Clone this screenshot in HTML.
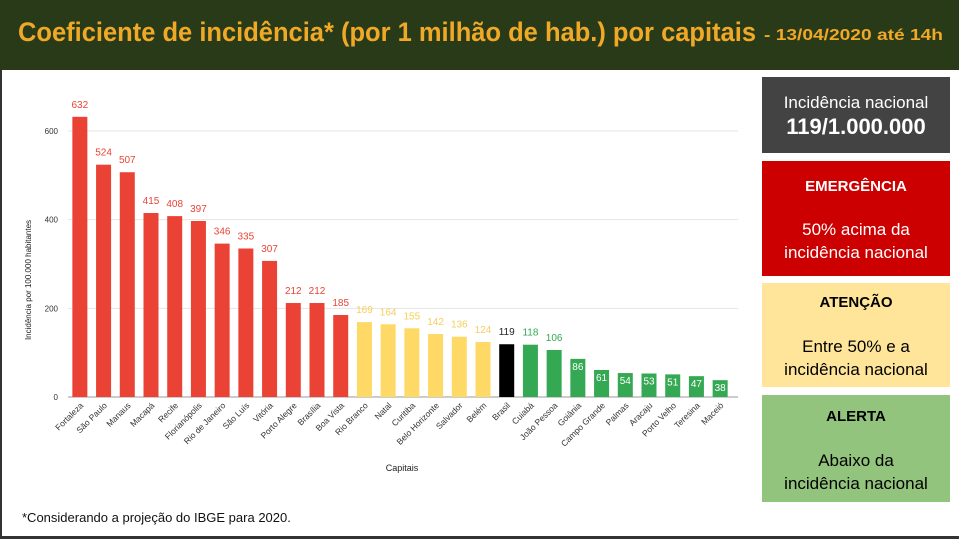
<!DOCTYPE html>
<html><head><meta charset="utf-8"><style>
html,body{margin:0;padding:0;background:#fff}
svg{display:block;font-family:"Liberation Sans",sans-serif}
</style></head><body>
<svg id="chart" width="959" height="539" viewBox="0 0 959 539" xmlns="http://www.w3.org/2000/svg">
<rect x="0" y="0" width="959" height="539" fill="#fff"/>
<rect x="0" y="0" width="959" height="70" fill="#283a18"/>
<text x="18" y="41" fill="#f0a827" font-weight="bold" font-size="27" textLength="738" lengthAdjust="spacingAndGlyphs">Coeficiente de incidência* (por 1 milhão de hab.) por capitais</text>
<text x="764" y="40" fill="#f0a827" font-weight="bold" font-size="16" textLength="179" lengthAdjust="spacingAndGlyphs">- 13/04/2020 até 14h</text>
<rect x="0" y="70" width="2" height="469" fill="#333"/>
<rect x="0" y="536" width="959" height="3" fill="#333"/>
<g id="grid"></g>
<g id="bars"></g>
<text transform="translate(31,280) rotate(-90)" text-anchor="middle" font-size="8" fill="#222">Incidência por 100.000 habitantes</text>
<text x="402" y="471" text-anchor="middle" font-size="9" fill="#222">Capitais</text>
<text x="22" y="522" font-size="13" fill="#111">*Considerando a projeção do IBGE para 2020.</text>
<g>
<rect x="762" y="77" width="188" height="76" fill="#434343"/>
<text x="856" y="108" text-anchor="middle" font-size="17" fill="#fff">Incidência nacional</text>
<text x="856" y="134" text-anchor="middle" font-size="22" font-weight="bold" fill="#fff">119/1.000.000</text>
</g>
<g>
<rect x="762" y="161" width="188" height="115" fill="#cc0000"/>
<text x="856" y="191" text-anchor="middle" font-size="15" font-weight="bold" fill="#fff">EMERGÊNCIA</text>
<text x="856" y="235" text-anchor="middle" font-size="17" fill="#fff">50% acima da</text>
<text x="856" y="258" text-anchor="middle" font-size="17" fill="#fff">incidência nacional</text>
</g>
<g>
<rect x="762" y="283" width="188" height="104" fill="#ffe599"/>
<text x="856" y="307" text-anchor="middle" font-size="15" font-weight="bold" fill="#000">ATENÇÃO</text>
<text x="856" y="352" text-anchor="middle" font-size="17" fill="#000">Entre 50% e a</text>
<text x="856" y="375" text-anchor="middle" font-size="17" fill="#000">incidência nacional</text>
</g>
<g>
<rect x="762" y="395" width="188" height="107" fill="#93c47d"/>
<text x="856" y="421" text-anchor="middle" font-size="15" font-weight="bold" fill="#000">ALERTA</text>
<text x="856" y="466" text-anchor="middle" font-size="17" fill="#000">Abaixo da</text>
<text x="856" y="489" text-anchor="middle" font-size="17" fill="#000">incidência nacional</text>
</g>
</svg>
<script>
const categories=["Fortaleza","São Paulo","Manaus","Macapá","Recife","Florianópolis","Rio de Janeiro","São Luís","Vitória","Porto Alegre","Brasília","Boa Vista","Rio Branco","Natal","Curitiba","Belo Horizonte","Salvador","Belém","Brasil","Cuiabá","João Pessoa","Goiânia","Campo Grande","Palmas","Aracaju","Porto Velho","Teresina","Maceió"];
const values=[632,524,507,415,408,397,346,335,307,212,212,185,169,164,155,142,136,124,119,118,106,86,61,54,53,51,47,38];
const yTicks=[0,200,400,600];
const NS="http://www.w3.org/2000/svg";
const x0=68,x1=732,y0=397,yTop=131;
const step=(x1-x0)/categories.length;
function xPos(i){return x0+step*(i+0.5);}
function yPos(v){return y0-(v/600)*(y0-yTop);}
function mk(tag,attrs,parent){const e=document.createElementNS(NS,tag);for(const k in attrs)e.setAttribute(k,attrs[k]);parent.appendChild(e);return e;}
const grid=document.getElementById('grid'),bars=document.getElementById('bars');
yTicks.forEach(t=>{
  const l=mk('line',{x1:x0,x2:738,y1:yPos(t),y2:yPos(t),stroke:t===0?'#999':'#e4e4e4','stroke-width':1},grid);
  
  
  const tx=mk('text',{x:x0-10,y:yPos(t)+3,'text-anchor':'end','font-size':8,fill:'#333'},grid);
  tx.textContent=t;
  
  
});
const nat=values[categories.indexOf("Brasil")];
function color(i,v){if(categories[i]==="Brasil")return'#000';if(v>=nat*1.5)return'#ea4335';if(v>nat)return'#ffd966';return'#34a853';}
categories.forEach((c,i)=>{
  const v=values[i],cx=xPos(i),w=15,col=color(i,v);
  const r=mk('rect',{x:cx-w/2,y:yPos(v),width:w,height:y0-yPos(v),fill:col},bars);
  
  
  const inside=v<100;
  const lbl=mk('text',{x:cx,y:inside?yPos(v)+11:yPos(v)-9,'text-anchor':'middle','font-size':10,fill:inside?'#fff':(col==='#000'?'#222':(col==='#ffd966'?'#f6cf5a':(col==='#34a853'?'#34a853':'#ea4335')))},bars);
  lbl.textContent=v;
  
  
  const xl=mk('text',{transform:'translate('+(cx+4)+','+(y0+9)+') rotate(-45)','text-anchor':'end','font-size':8.5,fill:'#333'},bars);
  xl.textContent=c;
  
  
});
</script>
</body></html>
